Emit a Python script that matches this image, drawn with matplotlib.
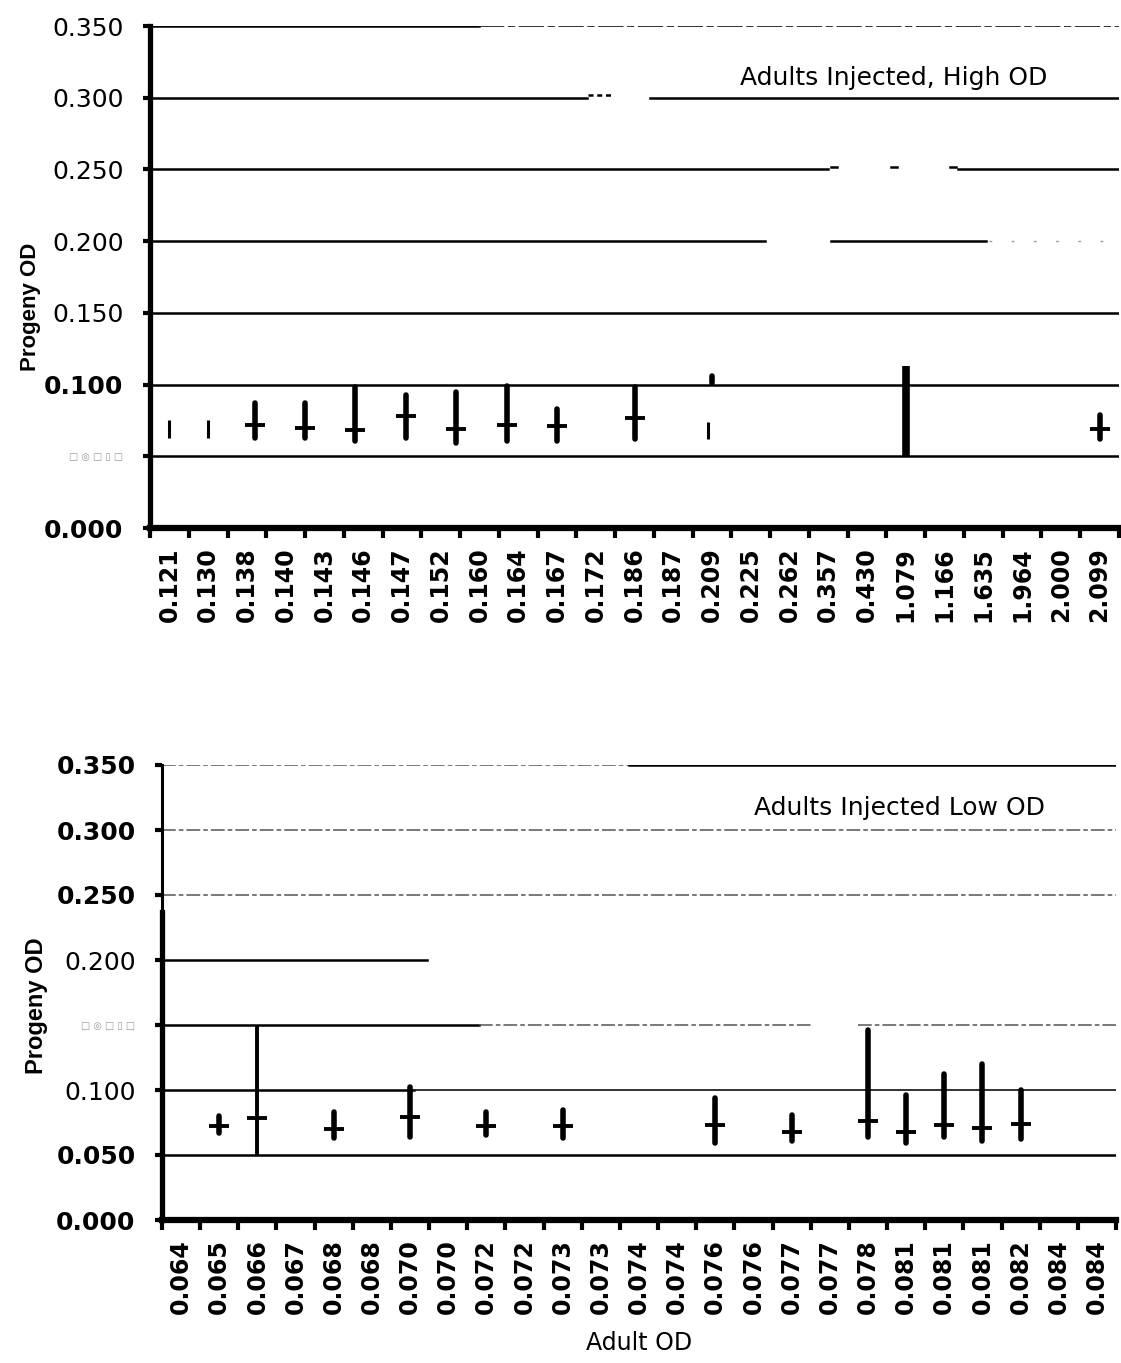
import matplotlib
matplotlib.use("Agg")
import matplotlib.pyplot as plt
import numpy as np

# ---------------------------------------------------------------------------
# Data (Progeny OD range + mean per adult)

# upper panel: adults injected, high OD
high_labels = ["0.121", "0.130", "0.138", "0.140", "0.143", "0.146", "0.147",
               "0.152", "0.160", "0.164", "0.167", "0.172", "0.186", "0.187",
               "0.209", "0.225", "0.262", "0.357", "0.430", "1.079", "1.166",
               "1.635", "1.964", "2.000", "2.099"]
high_pos = [0, 1, 2.2, 3.5, 4.8, 6.1, 7.4, 8.7, 10, 12, 13.9, 14, 19, 24]
high_low = [0.063, 0.063, 0.063, 0.063, 0.061, 0.063, 0.059, 0.061, 0.061,
            0.062, 0.062, 0.101, 0.050, 0.062]
high_high = [0.075, 0.075, 0.087, 0.087, 0.098, 0.093, 0.095, 0.099, 0.083,
             0.098, 0.074, 0.106, 0.113, 0.079]
high_mean = [np.nan, np.nan, 0.072, 0.070, 0.068, 0.078, 0.069, 0.072, 0.071,
             0.077, np.nan, np.nan, np.nan, 0.069]

# lower panel: adults injected, low OD
low_labels = ["0.064", "0.065", "0.066", "0.067", "0.068", "0.068", "0.070",
              "0.070", "0.072", "0.072", "0.073", "0.073", "0.074", "0.074",
              "0.076", "0.076", "0.077", "0.077", "0.078", "0.081", "0.081",
              "0.081", "0.082", "0.084", "0.084"]
low_pos = [1, 2, 4, 6, 8, 10, 14, 16, 18, 19, 20, 21, 22]
low_low = [0.067, 0.050, 0.063, 0.064, 0.0655, 0.063, 0.059, 0.061, 0.064,
           0.0595, 0.064, 0.061, 0.062]
low_high = [0.080, 0.150, 0.083, 0.102, 0.083, 0.085, 0.094, 0.081, 0.146,
            0.096, 0.112, 0.120, 0.100]
low_mean = [0.0725, 0.0785, 0.070, 0.079, 0.072, 0.072, 0.073, 0.068, 0.076,
            0.068, 0.073, 0.071, 0.074]

y_ticks = [0.0, 0.05, 0.10, 0.15, 0.20, 0.25, 0.30, 0.35]
scrambled = "\u25a1 \u25ce \u25a1 \u25af \u25a1"   # label lost in the scan
high_ytext = ["0.000", scrambled, "0.100", "0.150", "0.200", "0.250", "0.300", "0.350"]
low_ytext = ["0.000", "0.050", "0.100", scrambled, "0.200", "0.250", "0.300", "0.350"]

# ---------------------------------------------------------------------------
plt.rcParams['font.family'] = ['DejaVu Sans']

fig = plt.figure(figsize=(11.21, 13.63), dpi=100)
W, H = 1121, 1363
ax1 = fig.add_axes([150 / W, 1 - 528 / H, 969 / W, 502 / H])
ax2 = fig.add_axes([162 / W, 1 - 1220 / H, 954 / W, 455 / H])

solid = dict(color='black', lw=1.8)
broken = dict(color='#555555', lw=1.1, ls=(0, (9, 2, 3, 2)))
dash = dict(color='black', lw=1.8, ls=(0, (2, 1.5)))


def seg(ax, y, a, b, style):
    ax.axhline(y, xmin=a, xmax=b, zorder=1, **style)


# gridlines, with the breaks of the scanned original
seg(ax1, 0.35, 0, 0.34, solid)
seg(ax1, 0.35, 0.34, 1, dict(color='#222222', lw=1.3, ls=(0, (14, 2, 4, 2))))
seg(ax1, 0.30, 0, 0.451, solid)
seg(ax1, 0.302, 0.452, 0.476, dash)
seg(ax1, 0.30, 0.516, 1, solid)
seg(ax1, 0.25, 0, 0.70, solid)
for a in (0.703, 0.765, 0.826):
    seg(ax1, 0.252, a, a + 0.006, solid)
seg(ax1, 0.25, 0.834, 1, solid)
seg(ax1, 0.20, 0, 0.635, solid)
seg(ax1, 0.20, 0.703, 0.863, solid)
seg(ax1, 0.20, 0.866, 1, dict(color='#999999', lw=1.0, ls=(0, (2, 14))))
for y in (0.15, 0.10, 0.05):
    seg(ax1, y, 0, 1, solid)

seg(ax2, 0.35, 0, 0.49, broken)
seg(ax2, 0.35, 0.49, 1, solid)
seg(ax2, 0.30, 0, 1, broken)
seg(ax2, 0.25, 0, 1, broken)
seg(ax2, 0.20, 0, 0.278, solid)
seg(ax2, 0.15, 0, 0.332, solid)
seg(ax2, 0.15, 0.332, 0.68, broken)
seg(ax2, 0.15, 0.73, 1, broken)
seg(ax2, 0.10, 0, 0.264, solid)
seg(ax2, 0.10, 0.264, 1, dict(color='#222222', lw=1.3))
seg(ax2, 0.05, 0, 1, solid)


def draw_ranges(ax, pos, lo, hi, mean, thin=(), heavy=(), thin_lw=2.2):
    for i, (x, a, b, m) in enumerate(zip(pos, lo, hi, mean)):
        if i in heavy:
            lw, cap = 5.5, 'butt'
        elif i in thin:
            lw, cap = thin_lw, 'butt'
        else:
            lw, cap = 4.0, 'round'
        ax.plot([x, x], [a, b], color='black', lw=lw, solid_capstyle=cap, zorder=3)
        if not np.isnan(m):
            ax.plot([x], [m], marker='_', ms=15, mew=2.8, color='black', zorder=4)


draw_ranges(ax1, high_pos, high_low, high_high, high_mean, thin=(0, 1, 10), heavy=(12,))
draw_ranges(ax2, low_pos, low_low, low_high, low_mean, thin=(1,), thin_lw=2.8)

for ax, labels, ytext in ((ax1, high_labels, high_ytext), (ax2, low_labels, low_ytext)):
    n = len(labels)
    ax.set_xlim(-0.5, n - 0.5)
    ax.set_ylim(0, 0.35)
    for s in ('top', 'right'):
        ax.spines[s].set_visible(False)
    ax.spines['left'].set_linewidth(3.8)
    ax.spines['bottom'].set_linewidth(4.5)
    ax.set_xticks(range(n))
    ax.set_xticklabels(labels, rotation=90, fontweight='bold', fontsize=17)
    ax.set_xticks(np.arange(-0.5, n, 1), minor=True)
    ax.tick_params(axis='x', which='major', length=0, pad=14)
    ax.tick_params(axis='x', which='minor', length=7, width=3, direction='out')
    ax.set_yticks(y_ticks)
    ax.set_yticklabels(ytext)
    ax.tick_params(axis='y', length=5, width=3, direction='out', pad=14)

ax1.set_ylabel("Progeny OD", fontsize=16, fontweight='bold', family='Liberation Sans')
ax2.set_ylabel("Progeny OD", fontsize=17, fontweight='bold', family='Liberation Sans')

# lower panel: the scanned left axis is thin above ~0.24
ax2.spines['left'].set_bounds(0, 0.237)
ax2.axvline(-0.5, ymin=0.677, ymax=1, color='black', lw=2.2, clip_on=False, zorder=5)

# tick-label look: bold, plain spaced, or the faint scan remnant
top_bold = {"0.000", "0.100"}
low_bold = {"0.000", "0.050", "0.250", "0.300", "0.350"}
for ax, bold in ((ax1, top_bold), (ax2, low_bold)):
    for lab in ax.get_yticklabels():
        t = lab.get_text()
        if t == scrambled:
            lab.set_fontsize(7)
            lab.set_color('#9a9a9a')
        elif t in bold:
            lab.set_fontsize(18)
            lab.set_fontweight('bold')
        else:
            lab.set_fontsize(18)

ax1.yaxis.set_label_coords(-0.112, 0.44)
ax2.yaxis.set_label_coords(-0.12, 0.47)

ax1.text(0.767, 0.897, "Adults Injected, High OD", transform=ax1.transAxes,
         ha='center', va='center', fontsize=18)
ax2.text(0.773, 0.905, "Adults Injected Low OD", transform=ax2.transAxes,
         ha='center', va='center', fontsize=18)

ax2.set_xlabel("Adult OD", fontsize=17)
ax2.xaxis.set_label_coords(0.5, -0.245)

fig.savefig("out.png", dpi=100)
